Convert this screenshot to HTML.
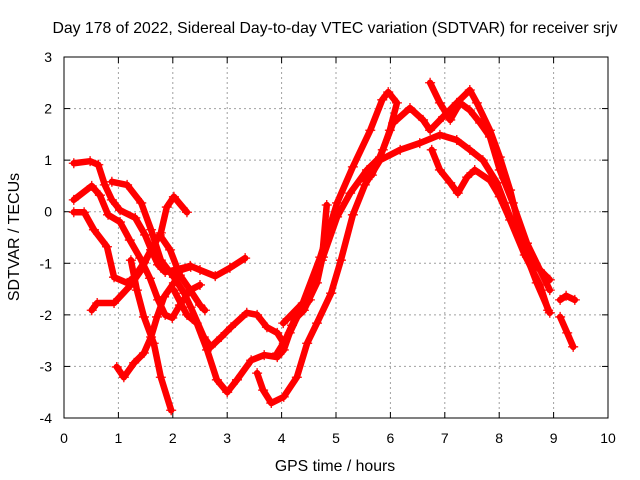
<!DOCTYPE html>
<html><head><meta charset="utf-8"><style>
body{margin:0;background:#fff}
svg{display:block;font-family:"Liberation Sans",sans-serif}
</style></head><body>
<svg id="chart" width="640" height="480">
<rect width="640" height="480" fill="#fff"/>
<g id="grid"></g>
<g id="axes"></g>
<g id="series"></g>
<text x="335" y="33" text-anchor="middle" font-size="15.8">Day 178 of 2022, Sidereal Day-to-day VTEC variation (SDTVAR) for receiver srjv</text>
<text x="335" y="471" text-anchor="middle" font-size="15.8">GPS time / hours</text>
<text x="19" y="237" text-anchor="middle" font-size="16" transform="rotate(-90 19 237)">SDTVAR / TECUs</text>
</svg>
<script>
const xTicks=[0,1,2,3,4,5,6,7,8,9,10];
const yTicks=[-4,-3,-2,-1,0,1,2,3];
const track1=[[.18,.94],[.48,.98],[.63,.91],[.75,.52],[.88,.23],[1.03,.03],[1.31,-.12],[1.49,-.45],[1.62,-.78],[1.73,-1.03],[1.86,-1.17],[2.04,-1.13],[2.32,-1.05],[2.5,-1.13],[2.78,-1.25],[3.05,-1.09],[3.33,-.9]];
const track2=[[.18,.23],[.51,.5],[.66,.32],[.81,-.06],[1.03,-.2],[1.21,-.55],[1.4,-.9],[1.58,-1.29],[1.73,-1.71],[1.86,-2.0],[1.99,-2.06],[2.13,-1.81],[2.32,-1.52],[2.5,-1.42]];
const track3=[[.18,-.01],[.37,-.01],[.55,-.35],[.79,-.68],[.92,-1.27],[1.16,-1.38],[1.29,-1.27],[1.47,-.99],[1.6,-.74],[1.78,-.41],[1.89,.09],[2.02,.29],[2.26,-.01]];
const track4=[[.88,.58],[1.16,.52],[1.42,.17],[1.6,-.35],[1.78,-.94],[2.02,-1.27],[2.21,-1.58],[2.33,-1.85],[2.57,-2.43],[2.7,-2.62],[2.89,-2.43],[3.07,-2.24],[3.36,-1.96],[3.55,-2.0],[3.73,-2.24],[3.92,-2.35],[4.04,-2.55],[4.19,-2.2],[4.34,-1.91],[4.52,-1.71]];
const track5=[[.51,-1.91],[.61,-1.77],[.92,-1.77],[1.23,-1.42],[1.42,-1.13],[1.6,-.74],[1.76,-.45],[1.95,-.74],[2.13,-1.23],[2.32,-1.52],[2.5,-1.81],[2.59,-1.91]];
const track6=[[.97,-3.01],[1.1,-3.21],[1.29,-2.93],[1.47,-2.74],[1.6,-2.43],[1.71,-2.04],[1.84,-1.65],[2.02,-1.38],[2.15,-1.13],[2.33,-1.07]];
const track7=[[1.23,-.94],[1.34,-1.52],[1.47,-2.04],[1.65,-2.55],[1.78,-3.21],[1.97,-3.85]];
const track8=[[2.02,-1.52],[2.26,-2.0],[2.44,-2.16],[2.63,-2.68],[2.81,-3.26],[3.0,-3.5],[3.18,-3.26],[3.44,-2.88],[3.68,-2.78],[3.92,-2.82],[4.04,-2.68],[4.23,-2.1],[4.41,-1.91],[4.65,-1.38],[4.74,-.94],[4.83,.13]];
const track9=[[3.55,-3.13],[3.66,-3.46],[3.81,-3.71],[4.04,-3.59],[4.28,-3.21],[4.47,-2.55],[4.65,-2.16],[4.91,-1.58],[5.09,-.94],[5.31,-.06],[5.53,.52],[5.81,1.0],[6.18,1.2],[6.54,1.33],[6.91,1.49],[7.22,1.39],[7.46,1.2],[7.7,1.0],[7.96,.56],[8.2,-.1],[8.51,-.88],[8.69,-1.38],[8.93,-1.96]];
const trackA=[[4.03,-2.16],[4.39,-1.77],[4.71,-.88],[5.02,.17],[5.31,.87],[5.63,1.58],[5.85,2.17],[5.96,2.32],[6.12,2.11],[5.99,1.58],[5.86,1.2],[5.66,.71],[5.53,.61]];
const trackB=[[3.92,-2.74],[4.15,-2.35],[4.52,-1.52],[4.76,-.88],[5.02,-.1],[5.26,.36],[5.57,.81],[5.81,1.06],[6.05,1.72],[6.36,2.01],[6.6,1.78],[6.73,1.58],[6.97,1.84],[7.22,2.11],[7.46,2.36],[7.59,2.11],[7.83,1.58],[8.01,1.06],[8.2,.42],[8.38,-.35],[8.62,-.99],[8.93,-1.32]];
const trackD=[[6.73,2.5],[6.91,2.11],[7.1,1.78],[7.28,2.11],[7.46,1.97],[7.65,1.72],[7.83,1.45],[8.01,.81],[8.25,.17],[8.51,-.61],[8.75,-1.13],[8.93,-1.52]];
const trackE=[[6.76,1.2],[6.91,.81],[7.1,.56],[7.24,.36],[7.41,.67],[7.55,.81],[7.83,.61],[8.01,.29],[8.2,-.16],[8.47,-.84],[8.75,-1.42],[8.9,-1.91]];
const trackS1=[[9.12,-1.71],[9.23,-1.63],[9.39,-1.71]];
const trackS2=[[9.12,-2.04],[9.25,-2.35],[9.36,-2.62]];
const tracks=[track1,track2,track3,track4,track5,track6,track7,track8,track9,trackA,trackB,trackD,trackE,trackS1,trackS2];

const X0=64,X1=608,Y0=418,Y1=57;
const sx=t=>X0+(t-0)/(10-0)*(X1-X0);
const sy=v=>Y0-(v+4)/(3+4)*(Y0-Y1);
const NS='http://www.w3.org/2000/svg';
function mk(tag,attrs,parent){const e=document.createElementNS(NS,tag);for(const k in attrs)e.setAttribute(k,attrs[k]);parent.appendChild(e);return e;}
const grid=document.getElementById('grid'),axes=document.getElementById('axes'),ser=document.getElementById('series');
xTicks.forEach(t=>{
  const x=sx(t);
  if(t>0&&t<10){const g=mk('line',{x1:x,x2:x,y1:Y1,y2:Y0,stroke:'#a0a0a0','stroke-dasharray':'2,3'},grid);
  
  }
  mk('line',{x1:x,x2:x,y1:Y0,y2:Y0-6,stroke:'#000'},axes);
  mk('line',{x1:x,x2:x,y1:Y1,y2:Y1+6,stroke:'#000'},axes);
  const l=mk('text',{x:x,y:443,'text-anchor':'middle','font-size':'14'},axes);
  l.textContent=t;
  
  
});
yTicks.forEach(v=>{
  const y=sy(v);
  if(v>-4&&v<3){const g=mk('line',{x1:X0,x2:X1,y1:y,y2:y,stroke:'#a0a0a0','stroke-dasharray':'2,3'},grid);
  
  }
  mk('line',{x1:X0,x2:X0+6,y1:y,y2:y,stroke:'#000'},axes);
  mk('line',{x1:X1,x2:X1-6,y1:y,y2:y,stroke:'#000'},axes);
  const l=mk('text',{x:52,y:y+5,'text-anchor':'end','font-size':'14'},axes);
  l.textContent=v;
  
  
});
const fr=mk('rect',{x:X0,y:Y1,width:X1-X0,height:Y0-Y1,fill:'none',stroke:'#000'},axes);


tracks.forEach((tr,i)=>{
  const g=mk('g',{},ser);
  
  
  mk('polyline',{points:tr.map(p=>sx(p[0])+','+sy(p[1])).join(' '),fill:'none',stroke:'#f00','stroke-width':6.5,'stroke-linejoin':'round','stroke-linecap':'round'},g);
  tr.forEach(p=>{
    const x=sx(p[0]),y=sy(p[1]);
    const m=mk('path',{d:`M${x-5},${y}H${x+5}M${x},${y-5}V${y+5}`,stroke:'#f00','stroke-width':1.3},g);
    
    
  });
});
</script>
</body></html>
